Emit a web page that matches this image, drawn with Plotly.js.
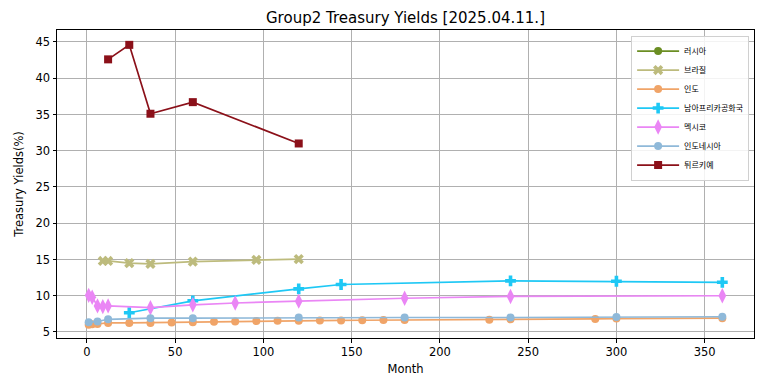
<!DOCTYPE html>
<html>
<head>
<meta charset="utf-8">
<script src="https://cdn.plot.ly/plotly-3.0.1.min.js"></script>
<style>html,body{margin:0;padding:0;background:#fff;}#chart{width:764px;height:391px;}</style>
</head>
<body>
<div id="chart"></div>
<script>
// Series names (legend order)
const seriesNames = ["러시아", "브라질", "인도", "남아프리카공화국", "멕시코", "인도네시아", "튀르키예"];

// Russia: no data drawn
const russiaMonths = [];
const russiaYields = [];

const brazilMonths = [9, 12, 24, 36, 60, 96, 120];
const brazilYields = [14.8, 14.8, 14.5, 14.4, 14.7, 14.95, 15.05];

const indiaMonths = [1, 3, 6, 12, 24, 36, 48, 60, 72, 84, 96, 108, 120, 132, 144, 156, 168, 180, 228, 240, 288, 300, 360];
const indiaYields = [6.0, 6.05, 6.1, 6.25, 6.25, 6.25, 6.3, 6.35, 6.4, 6.45, 6.5, 6.55, 6.55, 6.6, 6.6, 6.62, 6.65, 6.65, 6.7, 6.75, 6.8, 6.85, 6.9];

const safricaMonths = [24, 60, 120, 144, 240, 300, 360];
const safricaYields = [7.65, 9.3, 10.95, 11.55, 12.05, 12.0, 11.85];

const mexicoMonths = [1, 3, 6, 9, 12, 36, 60, 84, 120, 180, 240, 360];
const mexicoYields = [10.05, 9.8, 8.6, 8.5, 8.6, 8.35, 8.75, 9.0, 9.25, 9.65, 9.9, 10.0];

const indonesiaMonths = [1, 6, 12, 36, 60, 120, 180, 240, 300, 360];
const indonesiaYields = [6.35, 6.45, 6.75, 6.9, 6.9, 7.0, 7.0, 7.0, 7.05, 7.1];

const turkeyMonths = [12, 24, 36, 60, 120];
const turkeyYields = [42.6, 44.6, 35.1, 36.7, 31.0];

const xTickVals = [0, 50, 100, 150, 200, 250, 300, 350];
const yTickVals = [5, 10, 15, 20, 25, 30, 35, 40, 45];

const styles = [
  {color: "#6b8e23", symbol: "circle", size: 8},
  {color: "#bdbb7d", symbol: "x", size: 9},
  {color: "#f0a468", symbol: "circle", size: 8},
  {color: "#1ec8f5", symbol: "cross", size: 9},
  {color: "#ea86f5", symbol: "diamond-tall", size: 11},
  {color: "#8fb9d9", symbol: "circle", size: 8},
  {color: "#8b1019", symbol: "square", size: 8}
];
const xs = [russiaMonths, brazilMonths, indiaMonths, safricaMonths, mexicoMonths, indonesiaMonths, turkeyMonths];
const ys = [russiaYields, brazilYields, indiaYields, safricaYields, mexicoYields, indonesiaYields, turkeyYields];

const traces = seriesNames.map((n, i) => ({
  type: "scatter",
  mode: "lines+markers",
  name: n,
  x: xs[i].length ? xs[i] : [null],
  y: ys[i].length ? ys[i] : [null],
  line: {color: styles[i].color, width: 1.7},
  marker: {color: styles[i].color, symbol: styles[i].symbol, size: styles[i].size, line: {width: 0}},
  showlegend: true
}));

const fontFam = "DejaVu Sans, Noto Sans CJK KR, sans-serif";
const layout = {
  width: 764, height: 391,
  margin: {l: 57, r: 10, t: 30, b: 53},
  paper_bgcolor: "#fff", plot_bgcolor: "#fff",
  font: {family: fontFam, size: 11.5, color: "#000"},
  title: {text: "Group2 Treasury Yields [2025.04.11.]", font: {size: 15, family: fontFam}, x: 0.5, xanchor: "center", y: 0.955, yanchor: "middle", xref: "paper"},
  xaxis: {
    range: [-16.95, 377.95], tickvals: xTickVals, ticktext: xTickVals.map(String),
    showgrid: true, gridcolor: "#b0b0b0", gridwidth: 1, zeroline: false,
    showline: true, linecolor: "#000", linewidth: 1, mirror: true,
    ticks: "outside", ticklen: 3.5, tickcolor: "#000",
    title: {text: "Month", font: {size: 11.5}, standoff: 6}
  },
  yaxis: {
    range: [4.17, 46.65], tickvals: yTickVals, ticktext: yTickVals.map(String),
    showgrid: true, gridcolor: "#b0b0b0", gridwidth: 1, zeroline: false,
    showline: true, linecolor: "#000", linewidth: 1, mirror: true,
    ticks: "outside", ticklen: 3.5, tickcolor: "#000",
    title: {text: "Treasury Yields(%)", font: {size: 11.5}, standoff: 9}
  },
  legend: {
    x: 0.993, y: 0.982, xanchor: "right", yanchor: "top",
    bgcolor: "rgba(255,255,255,0.85)", bordercolor: "#d0d0d0", borderwidth: 1,
    font: {size: 8, family: fontFam}, tracegroupgap: 0, itemwidth: 42
  },
  showlegend: true
};

Plotly.newPlot("chart", traces, layout, {displayModeBar: false, staticPlot: true});
</script>
</body>
</html>
